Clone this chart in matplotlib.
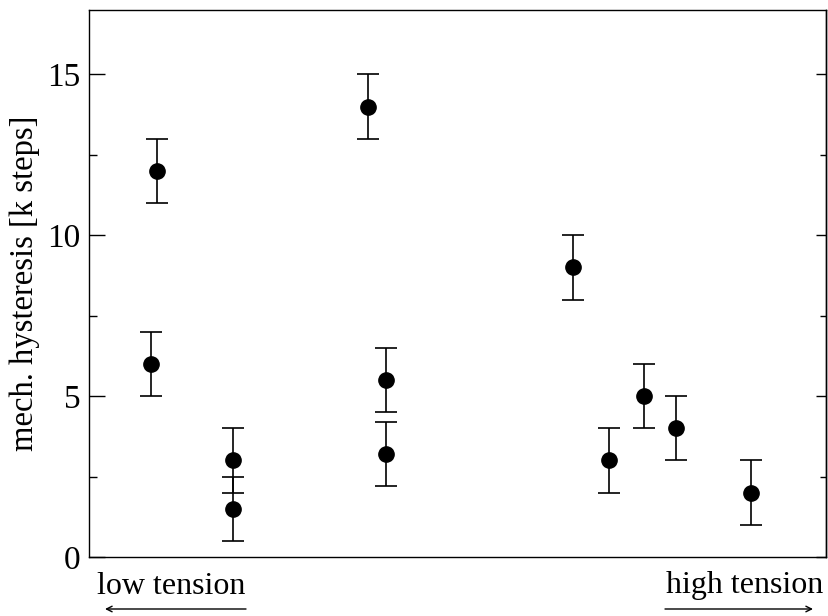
import matplotlib
matplotlib.use("Agg")
import matplotlib.pyplot as plt
from matplotlib.ticker import MultipleLocator

plt.rcParams['font.family'] = ['Liberation Serif', 'DejaVu Serif']

# data
tension = [9.23, 8.41, 19.54, 19.54, 37.82, 40.33, 40.33, 65.67, 70.56, 75.24, 79.65, 89.82]
hysteresis = [12, 6, 3, 1.5, 14, 5.5, 3.2, 9, 3, 5, 4, 2]
hyst_err = [1, 1, 1, 1, 1, 1, 1, 1, 1, 1, 1, 1]
yticks = [0, 5, 10, 15]

fig = plt.figure(figsize=(8.29, 6.16), dpi=100)
ax = fig.add_axes([89/829, 59/616, 737/829, 547/616])

ax.errorbar(tension, hysteresis, yerr=hyst_err, fmt='o', color='black',
            markersize=11, ecolor='black', elinewidth=1.2, capsize=8, capthick=1.2)

ax.set_xlim(0, 100)
ax.set_ylim(0, 17)
ax.set_yticks(yticks)
ax.yaxis.set_minor_locator(MultipleLocator(2.5))
ax.set_xticks([])
ax.tick_params(axis='y', which='major', direction='in', length=11.5, width=1,
               labelsize=24, pad=6)
ax.tick_params(axis='y', which='minor', direction='in', length=5.8, width=1)

sec = ax.secondary_yaxis('right')
sec.set_yticks(yticks)
sec.yaxis.set_minor_locator(MultipleLocator(2.5))
sec.tick_params(axis='y', which='major', direction='in', length=7.5, width=1, labelright=False)
sec.tick_params(axis='y', which='minor', direction='in', length=4, width=1)
sec.spines['right'].set_linewidth(1)

ax.set_ylabel('mech. hysteresis [k steps]', fontsize=23.5)
ax.yaxis.set_label_coords(-0.066, 0.5)
for s in ax.spines.values():
    s.set_linewidth(1)

fig.text(171/829, 1 - 586/616, 'low tension', ha='center', va='center', fontsize=23)
fig.text(745/829, 1 - 586/616, 'high tension', ha='center', va='center', fontsize=23)
ax.annotate('', xy=(105/829, 1 - 609/616), xytext=(246/829, 1 - 609/616),
            xycoords='figure fraction', textcoords='figure fraction',
            arrowprops=dict(arrowstyle='->', color='black', lw=1, shrinkA=0, shrinkB=0))
ax.annotate('', xy=(813/829, 1 - 609/616), xytext=(665/829, 1 - 609/616),
            xycoords='figure fraction', textcoords='figure fraction',
            arrowprops=dict(arrowstyle='->', color='black', lw=1, shrinkA=0, shrinkB=0))

fig.savefig('out.png', dpi=100)
